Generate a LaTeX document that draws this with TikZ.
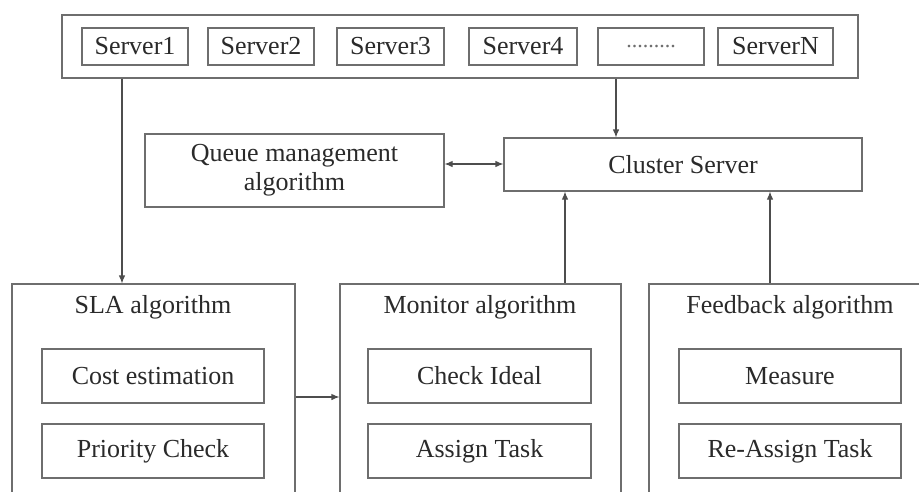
\documentclass[tikz,border=0pt]{standalone}
\usepackage{fontspec}
\setmainfont{Liberation Serif}
\usetikzlibrary{arrows.meta}
\definecolor{linec}{HTML}{6E6E6E}
\definecolor{textc}{HTML}{2A2A2A}
\begin{document}
\begin{tikzpicture}[x=1pt,y=-1pt,
  box/.style={draw=linec,line width=1.1pt,inner sep=0pt,text=textc,
    font=\fontsize{26}{29}\selectfont,align=center},
  label/.style={inner sep=0pt,text=textc,font=\fontsize{26}{29}\selectfont},
  tip/.tip={Latex[length=8pt,width=6.5pt]},
  arr/.style={draw=linec!70!black,line width=1.1pt,-tip},
  darr/.style={draw=linec!70!black,line width=1.1pt,tip-tip}]
\useasboundingbox (0,0) rectangle (919,491);
\fill[white] (0,0) rectangle (919,491);

% server pool
\node[box,minimum width=796pt,minimum height=63pt] (pool) at (460,46.5) {};
\node[box,minimum width=106pt,minimum height=37pt] (s1) at (135,46.5) {Server1};
\node[box,minimum width=106pt,minimum height=37pt] (s2) at (261,46.5) {Server2};
\node[box,minimum width=107pt,minimum height=37pt] (s3) at (390.5,46.5) {Server3};
\node[box,minimum width=108pt,minimum height=37pt] (s4) at (523,46.5) {Server4};
\node[box,minimum width=106pt,minimum height=37pt,text=linec,font=\fontsize{22}{24}\selectfont] (sd) at (651,46.5) {.........};
\node[box,minimum width=115pt,minimum height=37pt] (sn) at (775.5,46.5) {ServerN};

% middle row
\node[box,minimum width=299pt,minimum height=73pt] (queue) at (294.5,170.5)
  {Queue management\\algorithm};
\node[box,minimum width=358pt,minimum height=53pt] (cluster) at (683,164.5) {Cluster Server};

% algorithm blocks
\node[box,minimum width=283pt,minimum height=226pt] (sla) at (153.5,397) {};
\node[box,minimum width=281pt,minimum height=226pt] (mon) at (480.5,397) {};
\node[box,minimum width=286pt,minimum height=226pt] (fb) at (792,397) {};

\node[label] (slat) at (153,307) {SLA algorithm};
\node[label] (mont) at (480,307) {Monitor algorithm};
\node[label] (fbt) at (790,307) {Feedback algorithm};

\node[box,minimum width=222pt,minimum height=54pt] (cost) at (153,376) {Cost estimation};
\node[box,minimum width=222pt,minimum height=54pt] (prio) at (153,451) {Priority Check};
\node[box,minimum width=223pt,minimum height=54pt] (chk) at (479.5,376) {Check Ideal};
\node[box,minimum width=223pt,minimum height=54pt] (asg) at (479.5,451) {Assign Task};
\node[box,minimum width=222pt,minimum height=54pt] (meas) at (790,376) {Measure};
\node[box,minimum width=222pt,minimum height=54pt] (reasg) at (790,451) {Re-Assign Task};

% connector columns
\coordinate (xa) at (122,0);
\coordinate (xb) at (616,0);
\coordinate (xc) at (565,0);
\coordinate (xd) at (770,0);
\coordinate (yq) at (0,164);

\draw[arr] (pool.south -| xa) -- (sla.north -| xa);
\draw[arr] (pool.south -| xb) -- (cluster.north -| xb);
\draw[darr] (queue.east |- yq) -- (cluster.west |- yq);
\draw[arr] (mon.north -| xc) -- (cluster.south -| xc);
\draw[arr] (fb.north -| xd) -- (cluster.south -| xd);
\draw[arr] (sla.east) -- (mon.west);
\end{tikzpicture}
\end{document}
